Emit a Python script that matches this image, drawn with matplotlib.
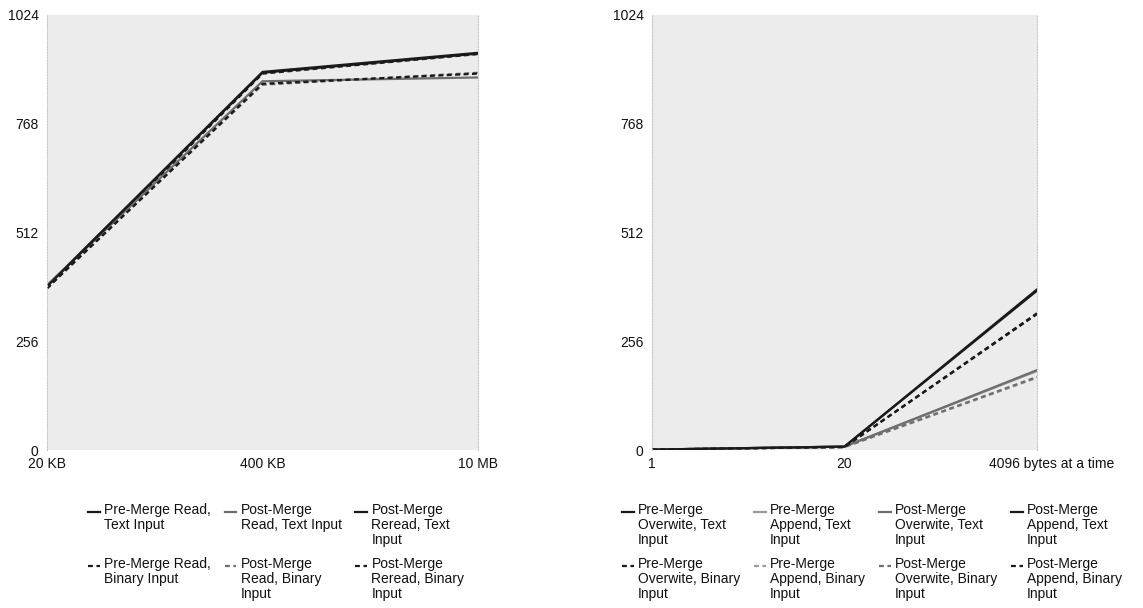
import numpy as np
import matplotlib
matplotlib.use("Agg")
import matplotlib.pyplot as plt
from matplotlib.legend_handler import HandlerLine2D
import matplotlib.transforms as mtransforms

plt.rcParams['font.family'] = ['Liberation Sans', 'DejaVu Sans']

# ---------------- data ----------------
left_x_labels = ["20 KB", "400 KB", "10 MB"]
pre_read_text = [386, 890, 935]
pre_read_binary = [380, 886, 932]
post_read_text = [388, 868, 877]
post_read_binary = [382, 860, 888]
post_reread_text = [385, 888, 933]
post_reread_binary = [381, 862, 886]

right_x_labels = ["1", "20", "4096 bytes at a time"]
pre_overwrite_text = [1, 8, 378]
pre_overwrite_binary = [1, 7, 322]
pre_append_text = [1, 8, 186]
pre_append_binary = [1, 7, 170]
post_overwrite_text = [1, 8, 188]
post_overwrite_binary = [1, 7, 172]
post_append_text = [1, 8, 375]
post_append_binary = [1, 7, 320]

y_ticks = [0, 256, 512, 768, 1024]

BLACK = "#1a1a1a"
GRAY = "#6e6e6e"
LGRAY = "#9a9a9a"
BG = "#ececec"
FS = 10

W, H = 1143, 608
fig = plt.figure(figsize=(W / 100, H / 100), dpi=100)

def px_axes(l, r, t, b):
    return fig.add_axes([l / W, 1 - b / H, (r - l) / W, (b - t) / H])

axL = px_axes(47, 478, 15, 450)
axR = px_axes(652, 1037, 15, 450)

def style(ax, labels):
    ax.set_facecolor(BG)
    ax.set_xlim(0, 2)
    ax.set_ylim(0, 1024)
    ax.set_xticks(range(len(labels)))
    ax.set_xticklabels(labels)
    ax.set_yticks(y_ticks)
    ax.tick_params(length=0, labelsize=FS, colors="#111111")
    ax.tick_params(axis='y', pad=6)
    ax.tick_params(axis='x', pad=5)
    for s in ("top", "bottom"):
        ax.spines[s].set_visible(False)
    for s in ("left", "right"):
        ax.spines[s].set_color("#c8c8c8")
        ax.spines[s].set_linestyle((0, (1, 1.5)))
        ax.spines[s].set_linewidth(0.8)

style(axL, left_x_labels)
style(axR, right_x_labels)

# shift last label of right axis
lab = axR.get_xticklabels()[-1]
lab.set_transform(lab.get_transform() + mtransforms.ScaledTranslation(0.15, 0, fig.dpi_scale_trans))

LW = 1.6
DASH = (0, (2.2, 1.6))

left_series = [
    ("Pre-Merge Read,\nText Input\n ", pre_read_text, BLACK, "-"),
    ("Pre-Merge Read,\nBinary Input\n ", pre_read_binary, BLACK, DASH),
    ("Post-Merge\nRead, Text Input\n ", post_read_text, GRAY, "-"),
    ("Post-Merge\nRead, Binary\nInput", post_read_binary, GRAY, DASH),
    ("Post-Merge\nReread, Text\nInput", post_reread_text, BLACK, "-"),
    ("Post-Merge\nReread, Binary\nInput", post_reread_binary, BLACK, DASH),
]
right_series = [
    ("Pre-Merge\nOverwite, Text\nInput", pre_overwrite_text, BLACK, "-"),
    ("Pre-Merge\nOverwite, Binary\nInput", pre_overwrite_binary, BLACK, DASH),
    ("Pre-Merge\nAppend, Text\nInput", pre_append_text, LGRAY, "-"),
    ("Pre-Merge\nAppend, Binary\nInput", pre_append_binary, LGRAY, DASH),
    ("Post-Merge\nOverwite, Text\nInput", post_overwrite_text, GRAY, "-"),
    ("Post-Merge\nOverwite, Binary\nInput", post_overwrite_binary, GRAY, DASH),
    ("Post-Merge\nAppend, Text\nInput", post_append_text, BLACK, "-"),
    ("Post-Merge\nAppend, Binary\nInput", post_append_binary, BLACK, DASH),
]

class TopHandler(HandlerLine2D):
    def __init__(self, shift, **kw):
        super().__init__(**kw)
        self.shift = shift

    def create_artists(self, legend, orig_handle, xdescent, ydescent,
                       width, height, fontsize, trans):
        arts = super().create_artists(legend, orig_handle, xdescent, ydescent,
                                      width, height, fontsize, trans)
        for a in arts:
            a.set_ydata(np.asarray(a.get_ydata(), dtype=float) + self.shift)
        return arts

PITCH_PT = 14 * 72 / 100.0

def draw(ax, series, ncol, anchor):
    handles, labels = [], []
    for label, vals, col, ls in series:
        (ln,) = ax.plot(np.arange(len(vals)), vals, color=col, lw=LW, linestyle=ls,
                        solid_joinstyle='miter')
        handles.append(ln)
        labels.append(label)
    hmap = {h: TopHandler(1 * PITCH_PT) for h in handles}
    leg = fig.legend(handles, labels, loc="upper left",
                     bbox_to_anchor=(anchor[0] / W, 1 - anchor[1] / H),
                     ncol=ncol, frameon=False, fontsize=FS,
                     handlelength=0.85, handletextpad=0.3,
                     columnspacing=1.0, labelspacing=0.75,
                     borderpad=0, borderaxespad=0, handler_map=hmap)
    for t in leg.get_texts():
        t.set_linespacing(1.08)
        t.set_color("#111111")
    return leg

draw(axL, left_series, 3, (88, 503))
draw(axR, right_series, 4, (622, 503))

fig.savefig("out.png", dpi=100, facecolor="white")
